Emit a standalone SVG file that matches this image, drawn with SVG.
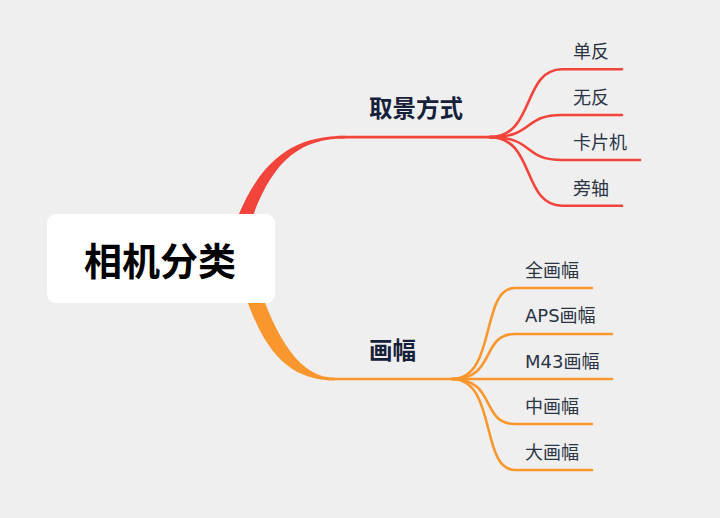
<svg xmlns="http://www.w3.org/2000/svg" width="720" height="518" viewBox="0 0 720 518">
<style>
.bg{fill:#efefef}
.red{stroke:#f2443a;fill:none;stroke-width:2.6;stroke-linecap:round}
.org{stroke:#f9962e;fill:none;stroke-width:2.6;stroke-linecap:round}
.leaf{font-family:"DejaVu Sans","Noto Sans CJK SC",sans-serif;font-size:18px;fill:#2b3345}
.mid{font-family:"Noto Sans CJK SC",sans-serif;font-size:23.5px;font-weight:bold;fill:#16203a}
.root{font-family:"Noto Sans CJK SC",sans-serif;font-size:38px;font-weight:bold;fill:#000}
</style>
<rect class="bg" x="0" y="0" width="720" height="518"/>
<g id="connectors">
<path d="M224 258 C248 172 282 135.7 345 135.7 L345 138.5 C290 138.5 262 172 240 258 Z" fill="#f2443a"/>
<path d="M234 258 C256 340 280 380.5 335 380.5 L335 377.7 C300 377.7 274 340 250 258 Z" fill="#f9962e"/>
<path class="red" d="M338 137.1 L495 137.1"/>
<path class="red" d="M490 137.1 C535 137.1 522 69.3 562 69.3 L622 69.3"/>
<path class="red" d="M490 137.1 C535 137.1 522 115 562 115 L622 115"/>
<path class="red" d="M490 137.1 C535 137.1 522 160 562 160 L640 160"/>
<path class="red" d="M490 137.1 C535 137.1 522 205.7 562 205.7 L622 205.7"/>
<path class="org" d="M328 379 L458 379"/>
<path class="org" d="M452 379 C497 379 480 288 515 288 L592 288"/>
<path class="org" d="M452 379 C497 379 480 334 515 334 L612 334"/>
<path class="org" d="M452 379 L612 379"/>
<path class="org" d="M452 379 C497 379 480 424 515 424 L592 424"/>
<path class="org" d="M452 379 C497 379 480 470 515 470 L592 470"/>
</g>
<g id="root">
<rect x="47" y="214" width="228" height="89" rx="9" fill="#fff"/>
<text class="root" x="160" y="275" text-anchor="middle">相机分类</text>
</g>
<g id="n-viewfinder"><text class="mid" x="369" y="117">取景方式</text></g>
<g id="n-dslr"><text class="leaf" x="573" y="58">单反</text></g>
<g id="n-mirrorless"><text class="leaf" x="573" y="104">无反</text></g>
<g id="n-compact"><text class="leaf" x="573" y="149">卡片机</text></g>
<g id="n-rangefinder"><text class="leaf" x="573" y="195">旁轴</text></g>
<g id="n-format"><text class="mid" x="369" y="359">画幅</text></g>
<g id="n-full"><text class="leaf" x="525" y="277">全画幅</text></g>
<g id="n-aps"><text class="leaf" x="525" y="322">APS画幅</text></g>
<g id="n-m43"><text class="leaf" x="525" y="368">M43画幅</text></g>
<g id="n-medium"><text class="leaf" x="525" y="413">中画幅</text></g>
<g id="n-large"><text class="leaf" x="525" y="459">大画幅</text></g>
</svg>
